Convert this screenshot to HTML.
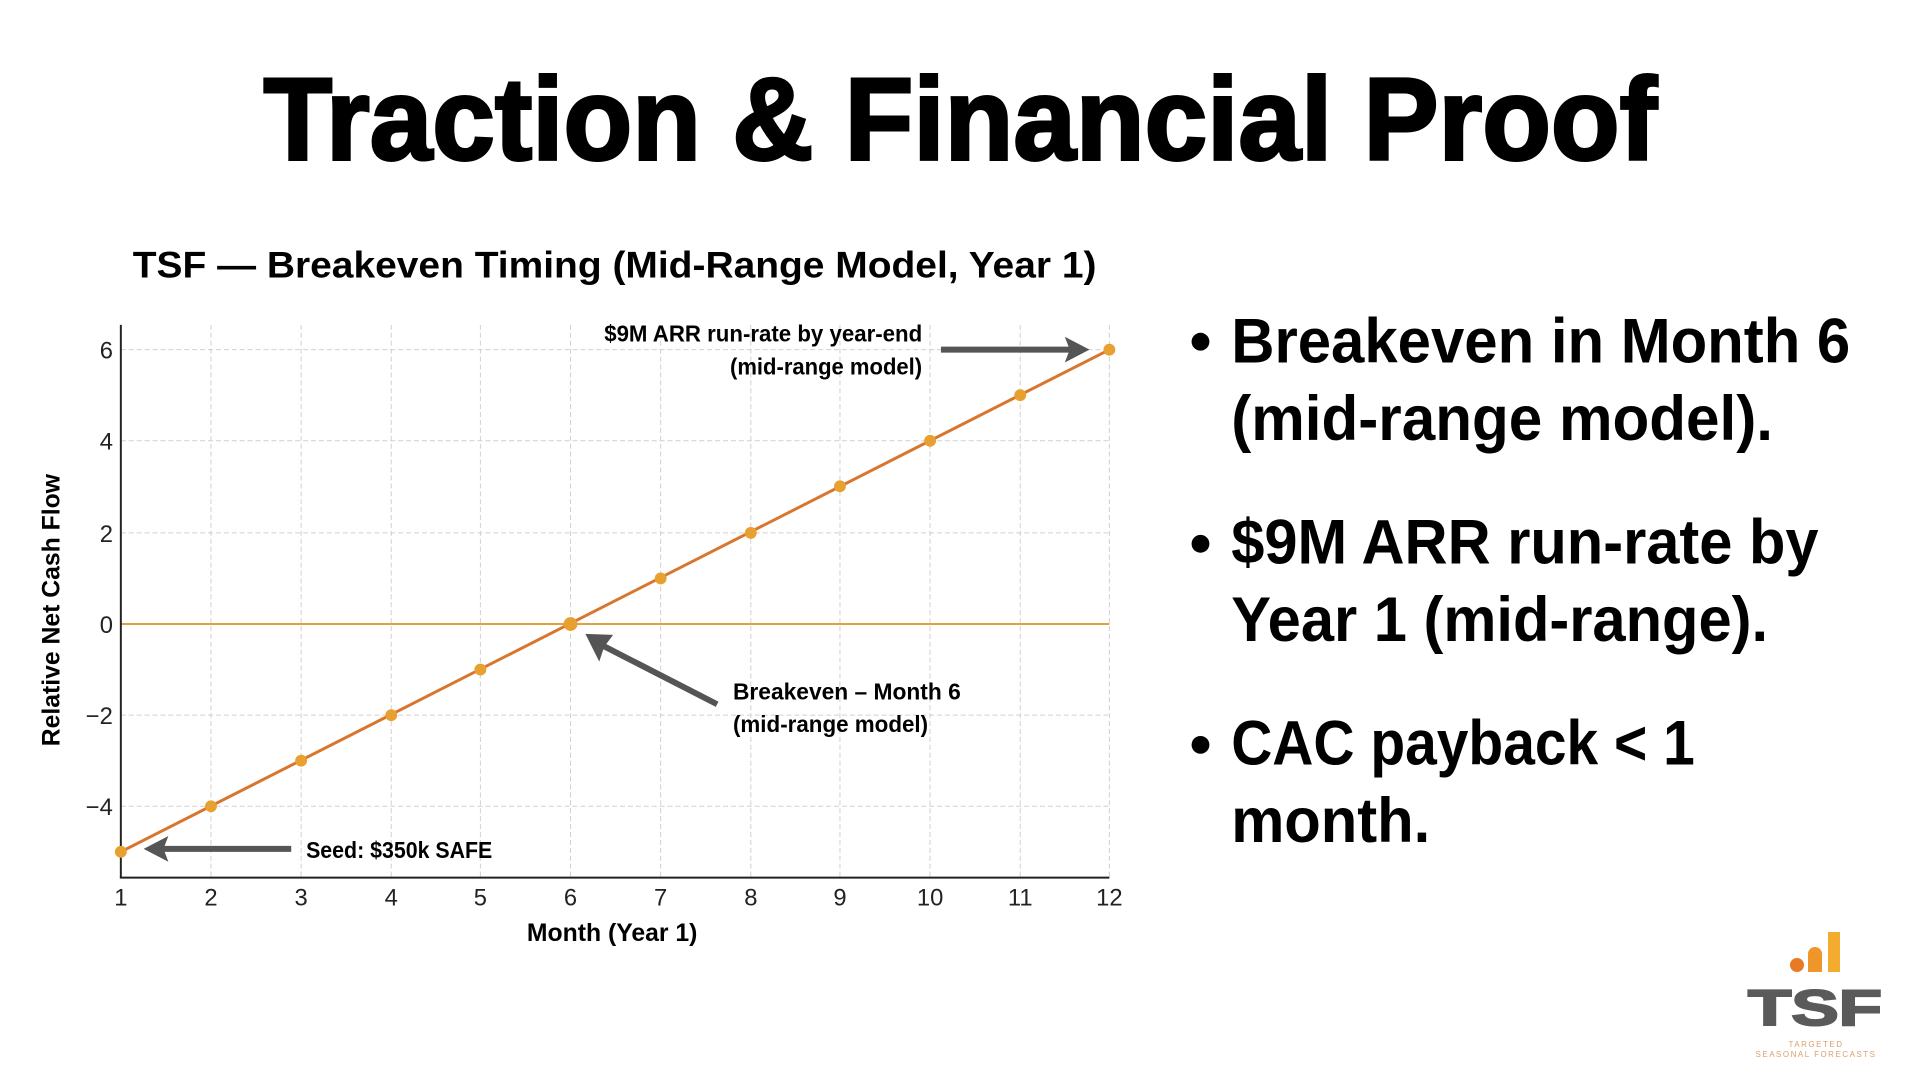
<!DOCTYPE html>
<html><head><meta charset="utf-8"><style>
html,body{margin:0;padding:0;background:#fff;}
svg{display:block;}
text{font-family:"Liberation Sans","DejaVu Sans",sans-serif;}
</style></head><body>
<svg width="1920" height="1080" viewBox="0 0 1920 1080" xmlns="http://www.w3.org/2000/svg">
<rect width="1920" height="1080" fill="#fff"/>
<g transform="scale(0.9905)">
<text x="266" y="161" font-size="118" font-weight="bold" textLength="1407" lengthAdjust="spacingAndGlyphs" fill="#000" stroke="#000" stroke-width="3">Traction &amp; Financial Proof</text>
<text x="134" y="280" font-size="37" font-weight="bold" textLength="973" lengthAdjust="spacingAndGlyphs">TSF — Breakeven Timing (Mid-Range Model, Year 1)</text>
<g stroke="#d0d0d0" stroke-width="1" stroke-dasharray="5,3">
<line x1="213" y1="328" x2="213" y2="885"/><line x1="304" y1="328" x2="304" y2="885"/><line x1="395" y1="328" x2="395" y2="885"/><line x1="485" y1="328" x2="485" y2="885"/><line x1="576" y1="328" x2="576" y2="885"/><line x1="667" y1="328" x2="667" y2="885"/><line x1="758" y1="328" x2="758" y2="885"/><line x1="848" y1="328" x2="848" y2="885"/><line x1="939" y1="328" x2="939" y2="885"/><line x1="1030" y1="328" x2="1030" y2="885"/><line x1="1120" y1="328" x2="1120" y2="885"/>
<line x1="122" y1="353" x2="1120" y2="353"/><line x1="122" y1="445" x2="1120" y2="445"/><line x1="122" y1="538" x2="1120" y2="538"/><line x1="122" y1="722" x2="1120" y2="722"/><line x1="122" y1="814" x2="1120" y2="814"/>
</g>
<line x1="122" y1="630" x2="1120" y2="630" stroke="#e0a040" stroke-width="2"/>
<line x1="122" y1="328" x2="122" y2="886" stroke="#222" stroke-width="2"/>
<line x1="121" y1="886" x2="1120" y2="886" stroke="#222" stroke-width="2"/>
<g font-size="24" fill="#222" text-anchor="middle">
<text x="122" y="914">1</text><text x="213" y="914">2</text><text x="304" y="914">3</text><text x="395" y="914">4</text><text x="485" y="914">5</text><text x="576" y="914">6</text><text x="667" y="914">7</text><text x="758" y="914">8</text><text x="848" y="914">9</text><text x="939" y="914">10</text><text x="1030" y="914">11</text><text x="1120" y="914">12</text>
</g>
<g font-size="24" fill="#222" text-anchor="end">
<text x="114" y="362">6</text><text x="114" y="454">4</text><text x="114" y="547">2</text><text x="114" y="639">0</text><text x="114" y="731">−2</text><text x="114" y="823">−4</text>
</g>
<text x="618" y="950" font-size="25" font-weight="bold" text-anchor="middle">Month (Year 1)</text>
<text transform="translate(60,616) rotate(-90)" font-size="25" font-weight="bold" text-anchor="middle">Relative Net Cash Flow</text>
<polyline points="122,860 1120,353" fill="none" stroke="#d9762e" stroke-width="3"/>
<g fill="#e8a030">
<circle cx="122" cy="860" r="6"/><circle cx="213" cy="814" r="6"/><circle cx="304" cy="768" r="6"/><circle cx="395" cy="722" r="6"/><circle cx="485" cy="676" r="6"/><circle cx="576" cy="630" r="7"/><circle cx="667" cy="584" r="6"/><circle cx="758" cy="538" r="6"/><circle cx="848" cy="491" r="6"/><circle cx="939" cy="445" r="6"/><circle cx="1030" cy="399" r="6"/><circle cx="1120" cy="353" r="6"/>
</g>
<g fill="#555" stroke="#555">
<line x1="950" y1="353" x2="1085" y2="353" stroke-width="6"/><polygon points="1100,353 1075,340 1080,353 1075,366" stroke="none"/>
<line x1="724" y1="711" x2="605" y2="650" stroke-width="6"/><polygon points="591,640 619,641 610,653 605,668" stroke="none"/>
<line x1="294" y1="857" x2="160" y2="857" stroke-width="6"/><polygon points="145,857 170,844 165,857 170,870" stroke="none"/>
</g>
<g font-size="23" font-weight="bold" fill="#000">
<text x="931" y="345" text-anchor="end" textLength="321" lengthAdjust="spacingAndGlyphs">$9M ARR run-rate by year-end</text>
<text x="931" y="378" text-anchor="end" textLength="194" lengthAdjust="spacingAndGlyphs">(mid-range model)</text>
<text x="740" y="706" textLength="230" lengthAdjust="spacingAndGlyphs">Breakeven – Month 6</text>
<text x="740" y="739" textLength="197" lengthAdjust="spacingAndGlyphs">(mid-range model)</text>
<text x="309" y="866" textLength="188" lengthAdjust="spacingAndGlyphs">Seed: $350k SAFE</text>
</g>
<g font-size="64" font-weight="bold" fill="#000">
<circle cx="1212" cy="345" r="9"/><circle cx="1212" cy="549" r="9"/><circle cx="1212" cy="752" r="9"/>
<text x="1243" y="366" textLength="625" lengthAdjust="spacingAndGlyphs">Breakeven in Month 6</text>
<text x="1243" y="444" textLength="547" lengthAdjust="spacingAndGlyphs">(mid-range model).</text>
<text x="1243" y="569" textLength="593" lengthAdjust="spacingAndGlyphs">$9M ARR run-rate by</text>
<text x="1243" y="647" textLength="542" lengthAdjust="spacingAndGlyphs">Year 1 (mid-range).</text>
<text x="1243" y="772" textLength="468" lengthAdjust="spacingAndGlyphs">CAC payback &lt; 1</text>
<text x="1243" y="850" textLength="201" lengthAdjust="spacingAndGlyphs">month.</text>
</g>
</g>
<circle cx="1797" cy="965" r="7" fill="#e87a25"/>
<path d="M1808,972 V954 a7,7 0 0 1 14,0 V972 Z" fill="#f0952a"/>
<rect x="1828" y="932" width="12" height="40" fill="#f5aa30"/>
<text x="1748" y="1025" font-size="50" font-weight="900" fill="#5a5a5a" textLength="134" lengthAdjust="spacingAndGlyphs" stroke="#5a5a5a" stroke-width="2">TSF</text>
<text x="1816" y="1047" font-size="8" fill="#d9a070" text-anchor="middle" letter-spacing="1.5">TARGETED</text>
<text x="1816" y="1057" font-size="8" fill="#d9a070" text-anchor="middle" letter-spacing="1.5">SEASONAL FORECASTS</text>
</svg>
</body></html>
